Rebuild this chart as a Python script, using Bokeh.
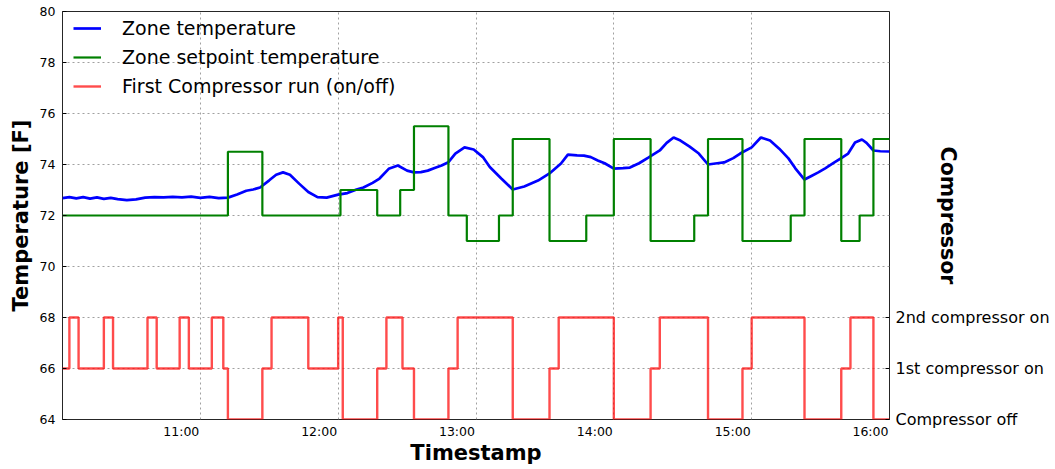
from bokeh.plotting import figure
from bokeh.models import (LinearAxis, FixedTicker, CustomJSTickFormatter,
                          Legend, LegendItem, Range1d)
from bokeh.embed import file_html
from bokeh.resources import INLINE

# ---------------- data ----------------
zone_time = ["10:00", "10:03", "10:06", "10:09", "10:12", "10:15", "10:18", "10:21",
             "10:24", "10:28", "10:32", "10:36", "10:40", "10:44", "10:48", "10:52",
             "10:56", "11:00", "11:04", "11:08", "11:12", "11:16", "11:20", "11:23",
             "11:26", "11:30", "11:33", "11:36", "11:39", "11:43", "11:47", "11:51",
             "11:55", "12:00", "12:04", "12:08", "12:11", "12:15", "12:18", "12:22",
             "12:26", "12:30", "12:33", "12:36", "12:39", "12:42", "12:45", "12:48",
             "12:51", "12:55", "12:59", "13:03", "13:06", "13:11", "13:16", "13:21",
             "13:27", "13:32", "13:37", "13:40", "13:44", "13:47", "13:50", "13:53",
             "13:56", "14:00", "14:04", "14:07", "14:11", "14:15", "14:20", "14:23",
             "14:26", "14:29", "14:33", "14:37", "14:41", "14:45", "14:48", "14:52",
             "14:55", "15:00", "15:04", "15:08", "15:12", "15:16", "15:19", "15:23",
             "15:26", "15:29", "15:32", "15:36", "15:39", "15:42", "15:45", "15:48",
             "15:50", "15:53", "15:56", "16:00"]
zone_temp = [72.68, 72.72, 72.67, 72.72, 72.66, 72.71, 72.65, 72.69,
             72.64, 72.60, 72.63, 72.70, 72.72, 72.71, 72.73, 72.71,
             72.74, 72.69, 72.73, 72.68, 72.70, 72.82, 72.97, 73.02,
             73.10, 73.38, 73.60, 73.69, 73.60, 73.25, 72.92, 72.72,
             72.70, 72.82, 72.88, 73.02, 73.10, 73.28, 73.45, 73.83,
             73.96, 73.76, 73.69, 73.70, 73.76, 73.86, 73.96, 74.09,
             74.43, 74.67, 74.59, 74.29, 73.90, 73.45, 73.02, 73.14,
             73.37, 73.65, 74.04, 74.39, 74.36, 74.35, 74.29, 74.16,
             74.05, 73.84, 73.86, 73.88, 74.05, 74.27, 74.55, 74.85,
             75.06, 74.94, 74.70, 74.43, 74.00, 74.05, 74.08, 74.25,
             74.43, 74.67, 75.06, 74.94, 74.62, 74.24, 73.85, 73.41,
             73.55, 73.69, 73.85, 74.08, 74.25, 74.43, 74.86, 74.98,
             74.85, 74.55, 74.52, 74.51]

setpoint_time = ["10:00", "11:12", "11:27", "12:01", "12:17", "12:27", "12:33",
                 "12:48", "12:56", "13:10", "13:16", "13:32", "13:48", "14:00",
                 "14:16", "14:35", "14:41", "14:56", "15:17", "15:23", "15:39",
                 "15:47", "15:53", "16:00"]
setpoint_temp = [72, 74.5, 72, 73, 72, 73, 75.5,
                 72, 71, 72, 75, 71, 72, 75,
                 71, 72, 75, 71, 72, 75, 71,
                 72, 75, 75]

comp_time = ["10:00", "10:03", "10:07", "10:18", "10:22", "10:37", "10:41", "10:51",
             "10:55", "11:05", "11:10", "11:12", "11:27", "11:31", "11:47", "12:00",
             "12:02", "12:17", "12:21", "12:28", "12:33", "12:48", "12:52", "13:16",
             "13:32", "13:36", "14:00", "14:16", "14:20", "14:41", "14:56", "15:00",
             "15:23", "15:39", "15:43", "15:53", "16:00"]
comp_level = [66, 68, 66, 68, 66, 68, 66, 68,
              66, 68, 66, 64, 66, 68, 66, 68,
              64, 66, 68, 66, 64, 66, 68, 64,
              66, 68, 64, 66, 68, 64, 66, 68,
              64, 66, 68, 64, 64]

hour_ticks = [11, 12, 13, 14, 15, 16]
grid_hours = [10, 11, 12, 13, 14, 15, 16]
temp_ticks = [64, 66, 68, 70, 72, 74, 76, 78, 80]
comp_ticks = [64, 66, 68]
comp_labels = ["Compressor off", "1st compressor on", "2nd compressor on"]


def to_hours(t):
    h, m = t.split(":")
    return int(h) + int(m) / 60.0


zx = [to_hours(t) for t in zone_time]
sx = [to_hours(t) for t in setpoint_time]
cx = [to_hours(t) for t in comp_time]

FONT = "DejaVu Sans"
label_shift = 0.138  # tick labels are drawn slightly left of their grid lines

p = figure(width=1055, height=469, output_backend="svg", toolbar_location=None,
           x_range=Range1d(10, 16), y_range=Range1d(64, 80),
           min_border_left=62, min_border_right=166, min_border_top=11,
           min_border_bottom=50)
p.background_fill_color = "white"
p.border_fill_color = "white"
p.outline_line_color = "black"
p.outline_line_alpha = 0.85
p.outline_line_width = 1

r_zone = p.line(zx, zone_temp, line_color="#0000ff", line_width=2.7)
r_set = p.step(sx, setpoint_temp, mode="after", line_color="#008000", line_width=2.2)
r_comp = p.step(cx, comp_level, mode="after", line_color="#ff0000", line_alpha=0.7,
                line_width=2.4)

# x axis
xa = p.xaxis[0]
xa.ticker = FixedTicker(ticks=[h - label_shift for h in hour_ticks])
xa.formatter = CustomJSTickFormatter(args=dict(shift=label_shift),
                                     code="return Math.round(tick + shift) + ':00';")
xa.axis_label = "Timestamp"
xa.axis_label_text_font = FONT
xa.axis_label_text_font_style = "bold"
xa.axis_label_text_font_size = "21px"
xa.axis_label_text_color = "black"
xa.axis_label_standoff = -1
xa.major_label_text_font = FONT
xa.major_label_text_font_size = "12.5px"
xa.major_label_text_color = "black"
xa.major_label_standoff = 4
xa.major_tick_in = 0
xa.major_tick_out = 0
xa.minor_tick_in = 0
xa.minor_tick_out = 0
xa.axis_line_color = None

# left y axis
ya = p.yaxis[0]
ya.ticker = FixedTicker(ticks=temp_ticks)
ya.axis_label = "Temperature [F]"
ya.axis_label_text_font = FONT
ya.axis_label_text_font_style = "bold"
ya.axis_label_text_font_size = "21px"
ya.axis_label_text_color = "black"
ya.axis_label_standoff = 4
ya.major_label_text_font = FONT
ya.major_label_text_font_size = "12.5px"
ya.major_label_text_color = "black"
ya.major_label_standoff = 7
ya.major_tick_in = 4
ya.major_tick_out = 0
ya.minor_tick_in = 0
ya.minor_tick_out = 0
ya.axis_line_color = None

# right axis (its title is pulled back over the empty space above the tick labels)
ra = LinearAxis(ticker=FixedTicker(ticks=comp_ticks),
                major_label_overrides={v: s for v, s in zip(comp_ticks, comp_labels)})
ra.axis_label = "Compressor"
ra.axis_label_text_font = FONT
ra.axis_label_text_font_style = "bold"
ra.axis_label_text_font_size = "20.5px"
ra.axis_label_text_color = "black"
ra.axis_label_standoff = -117
ra.major_label_text_font = FONT
ra.major_label_text_font_size = "16px"
ra.major_label_text_color = "black"
ra.major_label_standoff = 6
ra.major_tick_in = 4
ra.major_tick_out = 0
ra.minor_tick_in = 0
ra.minor_tick_out = 0
ra.axis_line_color = None
p.add_layout(ra, "right")

# grids
p.xgrid.ticker = FixedTicker(ticks=grid_hours)
p.ygrid.ticker = FixedTicker(ticks=temp_ticks)
for g in (p.xgrid[0], p.ygrid[0]):
    g.grid_line_color = "#a0a0a0"
    g.grid_line_dash = "2 3"
    g.grid_line_width = 1

legend = Legend(items=[LegendItem(label="Zone temperature", renderers=[r_zone]),
                       LegendItem(label="Zone setpoint temperature", renderers=[r_set]),
                       LegendItem(label="First Compressor run (on/off)", renderers=[r_comp])],
                location=(11, 322))
legend.background_fill_alpha = 0
legend.border_line_color = None
legend.label_text_font = FONT
legend.label_text_font_size = "19px"
legend.label_text_color = "black"
legend.glyph_width = 28
legend.label_standoff = 21
legend.spacing = 7
legend.margin = 0
legend.padding = 2
p.add_layout(legend)

open("out.html", "w").write(file_html(p, INLINE))
